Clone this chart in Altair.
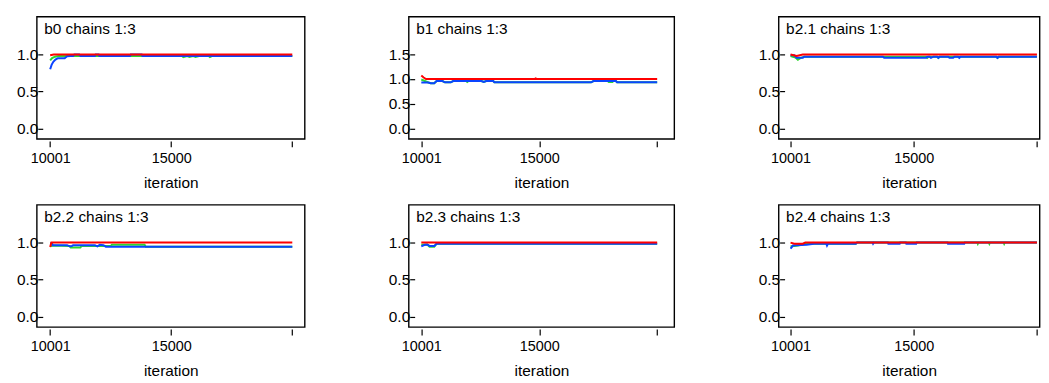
import altair as alt
import pandas as pd

FONT = "Liberation Sans"
ITER_TICKS = [10001, 15000, 20000]
Y_TICKS = [0.0, 0.5, 1.0]
Y_TICKS_B1 = [0.0, 0.5, 1.0, 1.5]

# ---- b0 ----
b0_red_it = [10001, 10150, 20000]
b0_red_v = [0.99, 1.0, 1.0]
b0_green_it = [10001, 10080, 10200, 10350, 15450, 15500, 15650, 15750, 15900, 16000, 16150, 16550, 16600, 16700, 20000]
b0_green_v = [0.92, 0.95, 0.97, 0.98, 0.98, 0.965, 0.98, 0.965, 0.98, 0.965, 0.98, 0.98, 0.965, 0.98, 0.98]
b0_blue_it = [10001, 10060, 10130, 10220, 10320, 10600, 10700, 10850, 10950, 11000, 11200, 11250, 11850, 11880, 12000, 12030, 13300, 13330, 13780, 13810, 20000]
b0_blue_v = [0.80, 0.86, 0.90, 0.93, 0.95, 0.95, 0.975, 0.98, 0.98, 1.0, 1.0, 0.98, 0.98, 1.0, 1.0, 0.98, 0.98, 1.0, 1.0, 0.98, 0.98]

# ---- b1 ----
b1_red_it = [10001, 10100, 10200, 14800, 14850, 14900, 20000]
b1_red_v = [1.07, 1.03, 1.0, 1.0, 1.015, 1.0, 1.0]
b1_green_it = [10001, 10150, 10300, 10400, 10550, 10650, 10900, 11000, 11250, 11350, 11900, 11950, 12000, 12550, 12650, 12750, 13050, 13100, 17200, 17300, 17900, 17950, 18100, 18150, 18250, 18300, 20000]
b1_green_v = [0.99, 0.96, 0.93, 0.915, 0.915, 0.96, 0.96, 0.935, 0.935, 0.96, 0.96, 0.94, 0.96, 0.96, 0.94, 0.96, 0.96, 0.935, 0.935, 0.96, 0.96, 0.94, 0.94, 0.96, 0.96, 0.935, 0.935]
b1_blue_it = [10001, 10300, 10400, 10550, 10650, 10900, 11000, 11250, 11350, 12550, 12650, 12750, 13050, 13100, 17200, 17300, 18250, 18300, 20000]
b1_blue_v = [0.93, 0.93, 0.915, 0.915, 0.96, 0.96, 0.935, 0.935, 0.96, 0.96, 0.94, 0.96, 0.96, 0.935, 0.935, 0.96, 0.96, 0.935, 0.935]

# ---- b2.1 ----
b21_red_it = [10001, 10250, 10500, 20000]
b21_red_v = [1.0, 0.98, 1.0, 1.0]
b21_green_it = [10001, 10200, 10300, 10400, 10550, 15500, 15550, 15600, 15950, 16000, 16050, 18350, 18400, 18450, 20000]
b21_green_v = [0.98, 0.96, 0.93, 0.95, 0.97, 0.97, 0.955, 0.97, 0.97, 0.955, 0.97, 0.97, 0.955, 0.97, 0.97]
b21_blue_it = [10001, 10150, 10250, 10500, 10550, 13750, 13800, 15500, 15550, 15650, 15700, 15800, 15950, 16000, 16050, 16400, 16450, 16600, 16650, 16800, 16850, 16900, 18350, 18400, 18450, 20000]
b21_blue_v = [0.99, 0.99, 0.955, 0.955, 0.97, 0.97, 0.955, 0.955, 0.97, 0.97, 0.955, 0.97, 0.97, 0.955, 0.97, 0.97, 0.955, 0.955, 0.97, 0.97, 0.955, 0.97, 0.97, 0.955, 0.97, 0.97]

# ---- b2.2 ----
b22_red_it = [10001, 10050, 20000]
b22_red_v = [0.94, 1.0, 1.0]
b22_green_it = [10001, 10100, 10800, 10850, 11250, 11300, 12500, 12550, 13900, 13950, 20000]
b22_green_v = [0.95, 0.96, 0.955, 0.935, 0.935, 0.955, 0.955, 0.97, 0.97, 0.945, 0.945]
b22_blue_it = [10001, 10080, 10100, 10700, 10800, 10900, 10950, 11850, 11950, 12050, 12200, 12300, 20000]
b22_blue_v = [0.99, 0.99, 0.965, 0.965, 0.95, 0.955, 0.965, 0.965, 0.95, 0.97, 0.965, 0.945, 0.945]

# ---- b2.3 ----
b23_red_it = [10001, 20000]
b23_red_v = [1.0, 1.0]
b23_green_it = [10001, 10250, 10350, 10550, 10650, 20000]
b23_green_v = [0.97, 0.975, 0.945, 0.945, 0.985, 0.985]
b23_blue_it = [10001, 10150, 10250, 10350, 10550, 10650, 20000]
b23_blue_v = [0.95, 0.97, 0.975, 0.955, 0.955, 0.985, 0.985]

# ---- b2.4 ----
b24_red_it = [10001, 10150, 10500, 10600, 20000]
b24_red_v = [1.0, 0.985, 0.985, 1.0, 1.0]
b24_green_it = [10001, 10150, 10300, 10600, 12650, 12700, 17580, 17600, 17620, 18050, 18070, 18090, 18650, 18670, 18690, 20000]
b24_green_v = [0.95, 0.955, 0.96, 0.985, 0.985, 1.0, 1.0, 0.985, 1.0, 1.0, 0.985, 1.0, 1.0, 0.985, 1.0, 1.0]
b24_blue_it = [10001, 10100, 10250, 10650, 10950, 11450, 11480, 11520, 12650, 12700, 13330, 13350, 13380, 13950, 13970, 14430, 14450, 14680, 14700, 15100, 15120, 16370, 16390, 17050, 17070, 20000]
b24_blue_v = [0.92, 0.96, 0.965, 0.97, 0.985, 0.985, 0.96, 0.985, 0.985, 1.0, 1.0, 0.985, 1.0, 1.0, 0.985, 0.985, 1.0, 1.0, 0.985, 0.985, 1.0, 1.0, 0.985, 0.985, 1.0, 1.0]

COLORS = {"green": "#2ed82e", "blue": "#0a44ff", "red": "#ff0000"}
Y_DOM = [-0.14, 1.51]
Y_DOM_B1 = [-0.21, 2.26]
H = 123.2
COL_W = [270, 267.6, 263]
COL_XDOM = [[9447.8, 20512.5], [9466.8, 20723.7], [9517.8, 20108.8]]


def panel(name, series, ydom, yticks, col):
    w = COL_W[col]
    xdom = COL_XDOM[col]
    layers = []
    for key in ["green", "blue", "red"]:
        its, vals = series[key]
        df = pd.DataFrame({"iteration": its, "value": vals})
        layers.append(
            alt.Chart(df).mark_line(strokeWidth=2, color=COLORS[key], clip=True).encode(
                x=alt.X("iteration:Q",
                        scale=alt.Scale(domain=xdom, nice=False, zero=False),
                        axis=alt.Axis(values=ITER_TICKS, format="d",
                                      labelExpr="datum.value == 20000 ? '' : datum.label",
                                      title="iteration", offset=2, tickSize=6,
                                      domain=False, grid=False, labelPadding=5,
                                      labelFontSize=14.5, titleFontSize=15.5,
                                      titlePadding=10, labelFlush=False)),
                y=alt.Y("value:Q",
                        scale=alt.Scale(domain=ydom, nice=False, zero=False),
                        axis=alt.Axis(values=yticks, format=".1f", title=None,
                                      offset=-6, tickSize=5, labelPadding=0,
                                      labelFontSize=15.5,
                                      domain=False, grid=False)),
            )
        )
    title = alt.Chart(pd.DataFrame({"t": [f"{name} chains 1:3"]})).mark_text(
        align="left", baseline="middle", fontSize=15.5, font=FONT, color="black"
    ).encode(x=alt.value(7.5), y=alt.value(12.4), text="t:N")
    return alt.layer(*layers, title).properties(width=w, height=H)


p1 = panel("b0", {"red": (b0_red_it, b0_red_v), "green": (b0_green_it, b0_green_v), "blue": (b0_blue_it, b0_blue_v)}, Y_DOM, Y_TICKS, 0)
p2 = panel("b1", {"red": (b1_red_it, b1_red_v), "green": (b1_green_it, b1_green_v), "blue": (b1_blue_it, b1_blue_v)}, Y_DOM_B1, Y_TICKS_B1, 1)
p3 = panel("b2.1", {"red": (b21_red_it, b21_red_v), "green": (b21_green_it, b21_green_v), "blue": (b21_blue_it, b21_blue_v)}, Y_DOM, Y_TICKS, 2)
p4 = panel("b2.2", {"red": (b22_red_it, b22_red_v), "green": (b22_green_it, b22_green_v), "blue": (b22_blue_it, b22_blue_v)}, Y_DOM, Y_TICKS, 0)
p5 = panel("b2.3", {"red": (b23_red_it, b23_red_v), "green": (b23_green_it, b23_green_v), "blue": (b23_blue_it, b23_blue_v)}, Y_DOM, Y_TICKS, 1)
p6 = panel("b2.4", {"red": (b24_red_it, b24_red_v), "green": (b24_green_it, b24_green_v), "blue": (b24_blue_it, b24_blue_v)}, Y_DOM, Y_TICKS, 2)

chart = alt.concat(
    p1, p2, p3, p4, p5, p6, columns=3,
    spacing={"row": 65.6, "column": 104.8}, bounds="flush", align="each",
).properties(
    padding={"left": 7, "top": 6.3, "right": 0, "bottom": 0},
    background="white",
).configure_view(
    stroke="black", strokeWidth=1.4
).configure_axis(
    labelFont=FONT, titleFont=FONT,
    labelColor="black", titleColor="black", tickColor="black", tickWidth=1.2,
    titleFontWeight="normal",
)

chart.save("out.html", embed_options={"renderer": "svg", "actions": False})
